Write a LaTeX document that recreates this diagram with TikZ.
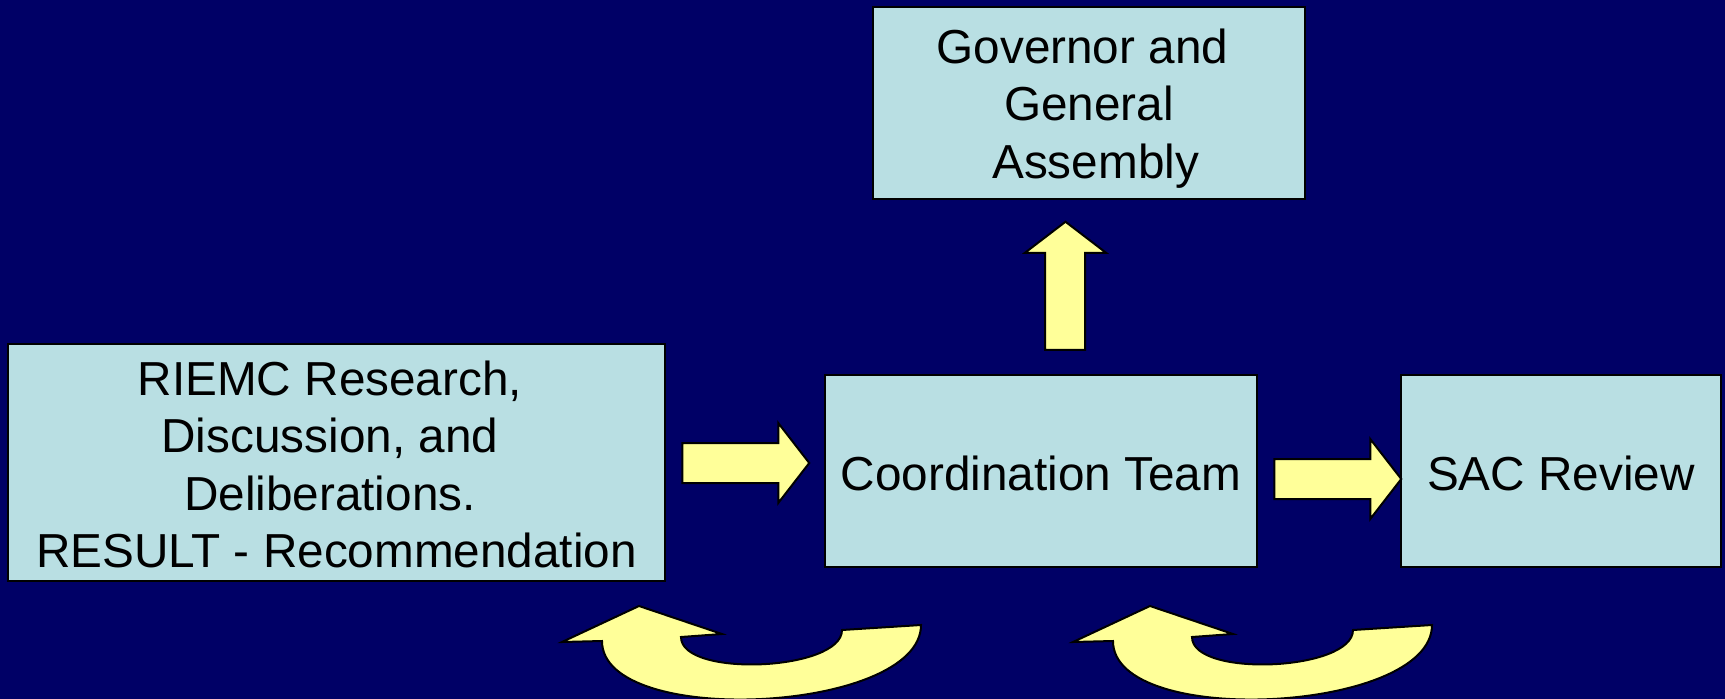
\documentclass[tikz,border=0pt]{standalone}
\usepackage{fontspec}
\setmainfont{Liberation Sans}
\usetikzlibrary{calc}
\definecolor{slidebg}{RGB}{0,0,102}
\definecolor{boxfill}{RGB}{185,223,227}
\definecolor{arrowfill}{RGB}{255,255,153}
\tikzset{
  box/.style={draw=black, fill=boxfill, line width=2.5pt, rectangle, inner sep=0pt, align=center, font=\fontsize{47.7}{57.5}\selectfont},
  blockarrow/.style={draw=black, fill=arrowfill, line width=2pt, line join=miter}
}

\begin{document}
\begin{tikzpicture}[x=1pt,y=1pt,yscale=-1,xscale=1]
    %Background
    \fill [slidebg] (0,0) rectangle (1725,699);
    \useasboundingbox (0,0) rectangle (1725,699);

    % Text Node
    \node [box, minimum width=432pt, minimum height=192pt] (gov) at (1089,103) {\rule{0pt}{45pt}Governor and\ \mbox{}\\General\\\mbox{}\ Assembly};
    % Text Node
    \node [box, minimum width=657pt, minimum height=237pt] (riemc) at (336.5,462.5) {\rule{0pt}{38pt}RIEMC Research,\ \mbox{}\\Discussion, and\ \mbox{}\\Deliberations.\ \mbox{}\\RESULT - Recommendation};
    % Text Node
    \node [box, minimum width=432pt, minimum height=192pt] (coord) at (1041,471) {\rule{0pt}{40pt}Coordination Team};
    % Text Node
    \node [box, minimum width=320pt, minimum height=192pt] (sac) at (1561,471) {\rule{0pt}{40pt}SAC Review};

    %Shape: Right Arrow
    \draw [blockarrow] ($(riemc.east)+(16,-19.5)$) -- ++(96,0) -- ++(0,-20) -- ++(31,40) -- ++(-31,40) -- ++(0,-20) -- ++(-96,0) -- cycle ;
    %Shape: Right Arrow
    \draw [blockarrow] ($(coord.east)+(16,-12)$) -- ++(96,0) -- ++(0,-20) -- ++(31,40) -- ++(-31,40) -- ++(0,-20) -- ++(-96,0) -- cycle ;
    %Shape: Up Arrow
    \draw [blockarrow] ($(coord.north)+(4,-24)$) -- ++(0,-97) -- ++(-20,0) -- ++(40.5,-31) -- ++(40.5,31) -- ++(-21,0) -- ++(0,97) -- cycle ;

    %Shape: Curved Arrow
    \draw [blockarrow] (602,641) -- (562,642) -- (639,606) -- (722,634) -- (681,637) .. controls (681,678) and (842,671) .. (842,630) -- (921,625) .. controls (921,713) and (602,729) .. (602,641) -- cycle ;
    %Shape: Curved Arrow
    \begin{scope}[shift={(511,0)}]
    \draw [blockarrow] (602,641) -- (562,642) -- (639,606) -- (722,634) -- (681,637) .. controls (681,678) and (842,671) .. (842,630) -- (921,625) .. controls (921,713) and (602,729) .. (602,641) -- cycle ;
    \end{scope}

\end{tikzpicture}
\end{document}
